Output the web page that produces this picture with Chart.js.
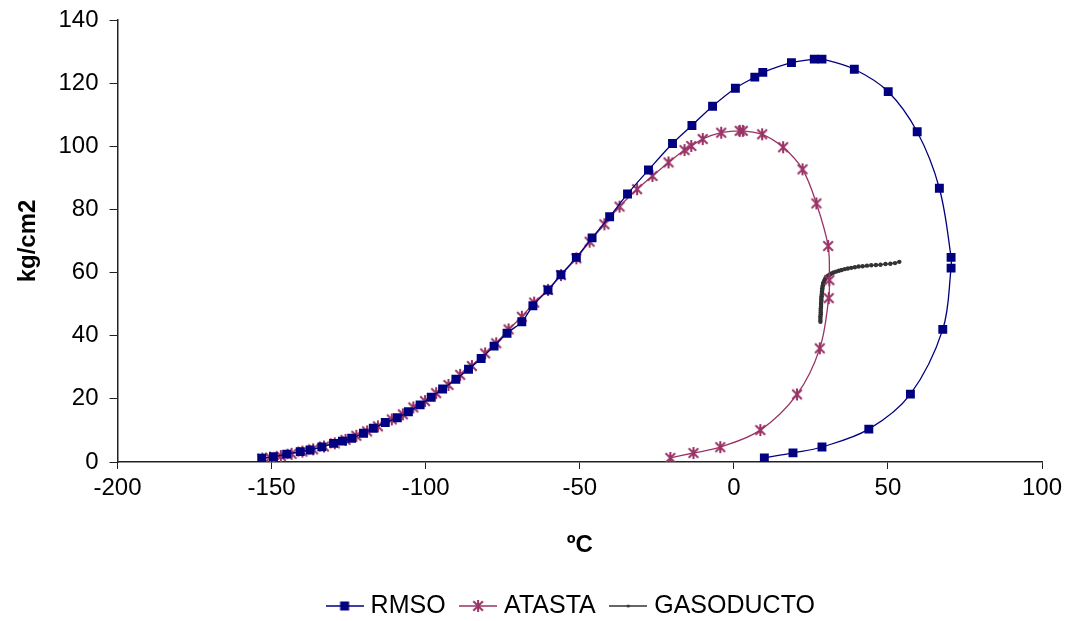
<!DOCTYPE html>
<html>
<head>
<meta charset="utf-8">
<title>RMSO ATASTA GASODUCTO</title>
<script src="https://cdn.jsdelivr.net/npm/chart.js@4.4.0/dist/chart.umd.min.js"></script>
<style>
  body { margin: 0; background: #fff; }
  #wrap { width: 1068px; height: 621px; }
</style>
</head>
<body>
<div id="wrap"><canvas id="mycanvas" width="1068" height="621"></canvas></div>
<script>
// temperatura (ºC) y presion (kg/cm2) de cada curva
var rmsoTemp = [-153.2, -149.4, -145.1, -140.7, -137.5, -133.7, -129.9, -127, -124, -120.2, -117, -113.1, -109.2, -105.6, -101.8, -98.2, -94.5, -90.2, -86.1, -82, -77.8, -73.6, -68.8, -65.2, -60.3, -56.1, -51.1, -46, -40.3, -34.5, -27.7, -19.9, -13.6, -6.9, 0.5, 6.8, 9.4, 18.7, 26.1, 28.6, 39.1, 50.1, 59.5, 66.7, 70.5, 70.5, 67.8, 57.3, 43.8, 28.6, 19.2, 9.9];
var rmsoPres = [1.2, 1.7, 2.5, 3.3, 3.8, 4.8, 5.9, 6.6, 7.5, 9.1, 10.7, 12.5, 14.0, 15.9, 18.1, 20.5, 23.1, 26.2, 29.4, 32.8, 36.7, 40.8, 44.4, 49.5, 54.5, 59.3, 64.8, 71.0, 77.7, 84.9, 92.5, 100.9, 106.6, 112.7, 118.4, 121.9, 123.4, 126.5, 127.6, 127.6, 124.4, 117.3, 104.6, 86.7, 64.8, 61.4, 42.0, 21.5, 10.4, 4.75, 2.9, 1.3];

var atastaTemp = [-153, -150.5, -147, -143.5, -140, -136.5, -133, -129.5, -126, -122.5, -119, -115.5, -111, -107.4, -104, -100.2, -96.6, -92.6, -88.8, -85, -80.7, -77.1, -73.1, -68.8, -64.8, -60.3, -56.1, -51.1, -46.8, -42, -37.1, -31.4, -26.4, -21.2, -16, -13.8, -10.1, -4.1, 1.9, 2.9, 9.2, 16, 22.3, 26.8, 30.6, 31.0, 30.8, 27.9, 20.5, 8.6, -4.4, -13.1, -20.6];
var atastaPres = [1.1, 1.4, 1.9, 2.6, 3.3, 4.0, 4.9, 5.9, 7.0, 8.3, 9.7, 11.3, 13.5, 15.1, 17.3, 19.3, 21.8, 24.4, 27.6, 30.4, 34.4, 37.6, 42.0, 46.0, 50.5, 54.5, 59.2, 64.5, 69.8, 75.3, 80.9, 86.4, 90.6, 94.9, 98.8, 100.1, 102.3, 104.3, 104.9, 104.9, 103.8, 99.7, 92.7, 81.9, 68.4, 57.6, 51.9, 36.0, 21.4, 10.1, 4.7, 2.85, 1.3];

var gasTemp = [28.1, 28.1, 28.1, 28.1, 28.2, 28.2, 28.2, 28.2, 28.3, 28.3, 28.3, 28.4, 28.4, 28.4, 28.5, 28.5, 28.6, 28.6, 28.7, 28.7, 28.8, 28.9, 29.0, 29.1, 29.3, 29.5, 29.7, 30.0, 30.3, 30.7, 31.2, 31.7, 32.4, 33.2, 34.1, 35.0, 36.0, 37.0, 38.1, 39.3, 40.5, 41.8, 43.2, 44.6, 46.1, 47.6, 49.2, 50.8, 52.3, 53.7];
var gasPres = [44.4, 45.0, 45.6, 46.2, 46.8, 47.4, 48.0, 48.6, 49.2, 49.8, 50.4, 51.0, 51.5, 52.0, 52.5, 53.0, 53.5, 54.0, 54.5, 55.0, 55.5, 56.0, 56.5, 56.9, 57.3, 57.7, 58.1, 58.5, 58.8, 59.1, 59.4, 59.7, 60.0, 60.3, 60.6, 60.8, 61.1, 61.3, 61.5, 61.7, 61.9, 62.0, 62.2, 62.3, 62.4, 62.5, 62.7, 62.8, 63.0, 63.4];

var seriesNames = ['RMSO', 'ATASTA', 'GASODUCTO'];
var xTicks = [-200, -150, -100, -50, 0, 50, 100];
var yTicks = [0, 20, 40, 60, 80, 100, 120, 140];

var NAVY = '#000080';
var PLUM = '#993366';
var DARK = '#333333';

function toXY(xs, ys) {
  var out = [];
  for (var i in xs) {
    out.push({x: xs[i], y: ys[i]});
  }
  return out;
}

// asterisco tipo Excel (X + linea vertical)
function starImg(size, color) {
  var c = document.createElement('canvas');
  c.width = size; c.height = size;
  var g = c.getContext('2d');
  var h = size / 2, r = size / 2 - 1;
  g.strokeStyle = color;
  g.lineWidth = 2;
  g.beginPath();
  g.moveTo(h - r * 0.8, h - r * 0.8); g.lineTo(h + r * 0.8, h + r * 0.8);
  g.moveTo(h + r * 0.8, h - r * 0.8); g.lineTo(h - r * 0.8, h + r * 0.8);
  g.moveTo(h, h - r); g.lineTo(h, h + r);
  g.stroke();
  return c;
}

// muestra de leyenda: linea con marcador al centro
function legendImg(kind) {
  var c = document.createElement('canvas');
  c.width = 38; c.height = 14;
  var g = c.getContext('2d');
  var col = kind == 0 ? NAVY : (kind == 1 ? PLUM : DARK);
  g.strokeStyle = col;
  g.lineWidth = 1.5;
  g.beginPath(); g.moveTo(0, 7); g.lineTo(38, 7); g.stroke();
  if (kind == 0) {
    g.fillStyle = NAVY;
    g.fillRect(14.5, 2.5, 9, 9);
  } else if (kind == 1) {
    g.drawImage(starImg(14, PLUM), 12, 0);
  } else {
    g.fillStyle = DARK;
    g.beginPath(); g.arc(19, 7, 1.6, 0, Math.PI * 2); g.fill();
  }
  return c;
}

var legendIcons = [legendImg(0), legendImg(1), legendImg(2)];

// mover la leyenda para que quede centrada bajo el area de trazado
var legendShift = {
  id: 'legendShift',
  afterLayout: function(chart) {
    var lg = chart.legend;
    lg.top += 7.5; lg.bottom += 7.5;
    lg.left += 52; lg.right += 52;
  }
};

var chartdata = {
  datasets: [
    {
      label: seriesNames[0],
      data: toXY(rmsoTemp, rmsoPres),
      showLine: true,
      borderColor: NAVY,
      backgroundColor: NAVY,
      borderWidth: 1.3,
      tension: 0.35,
      pointStyle: 'rect',
      pointRadius: 6.3,
      pointBorderWidth: 0,
      pointBackgroundColor: NAVY
    },
    {
      label: seriesNames[1],
      data: toXY(atastaTemp, atastaPres),
      showLine: true,
      borderColor: PLUM,
      backgroundColor: PLUM,
      borderWidth: 1.3,
      tension: 0.35,
      pointStyle: starImg(14, PLUM),
      pointRadius: 7
    },
    {
      label: seriesNames[2],
      data: toXY(gasTemp, gasPres),
      showLine: true,
      borderColor: DARK,
      backgroundColor: DARK,
      borderWidth: 1.5,
      tension: 0.3,
      pointStyle: 'circle',
      pointRadius: 2.2,
      pointBorderWidth: 0,
      pointBackgroundColor: DARK
    }
  ]
};

var tickFont = {family: 'Liberation Sans, Arial, sans-serif', size: 24};
var legendFont = {family: 'Liberation Sans, Arial, sans-serif', size: 25};
var titleFont = {family: 'Liberation Sans, Arial, sans-serif', size: 24, weight: 'bold'};

var ctx = document.getElementById('mycanvas');
var scatterChart = new Chart(ctx, {
  type: 'scatter',
  data: chartdata,
  plugins: [legendShift],
  options: {
    responsive: false,
    devicePixelRatio: 1,
    animation: false,
    layout: {padding: {left: 0, right: 26, top: 20, bottom: 0}},
    scales: {
      x: {
        type: 'linear',
        min: -200, max: 100,
        afterBuildTicks: function(scale) {
          scale.ticks = xTicks.map(function(v) { return {value: v}; });
        },
        afterFit: function(scale) { scale.height = 105; },
        grid: {drawOnChartArea: false, drawTicks: true, tickLength: 7, color: '#222', tickColor: '#222'},
        border: {color: '#222', width: 1.5},
        ticks: {color: '#000', font: tickFont, padding: 5, maxRotation: 0},
        title: {display: true, text: 'ºC', color: '#000', font: titleFont, padding: {top: 0, bottom: 7.5}}
      },
      y: {
        min: 0, max: 140,
        afterBuildTicks: function(scale) {
          scale.ticks = yTicks.map(function(v) { return {value: v}; });
        },
        afterFit: function(scale) {
          scale.width = 117.5;
          scale.paddingTop = 10;
          scale.paddingBottom = 10;
        },
        grid: {drawOnChartArea: false, drawTicks: true, tickLength: 8, color: '#222', tickColor: '#222'},
        border: {color: '#222', width: 1.5},
        ticks: {color: '#000', font: tickFont, padding: 11},
        title: {display: true, text: 'kg/cm2', color: '#000', font: titleFont, padding: {top: 14, bottom: 0}}
      }
    },
    plugins: {
      tooltip: {enabled: false},
      legend: {
        position: 'bottom',
        labels: {
          color: '#000',
          font: legendFont,
          usePointStyle: true,
          pointStyleWidth: 27,
          padding: 19,
          generateLabels: function(chart) {
            var items = Chart.defaults.plugins.legend.labels.generateLabels(chart);
            items.forEach(function(it, i) { it.pointStyle = legendIcons[i]; });
            return items;
          }
        }
      }
    }
  }
});
console.log(scatterChart.chartArea);
</script>
</body>
</html>
